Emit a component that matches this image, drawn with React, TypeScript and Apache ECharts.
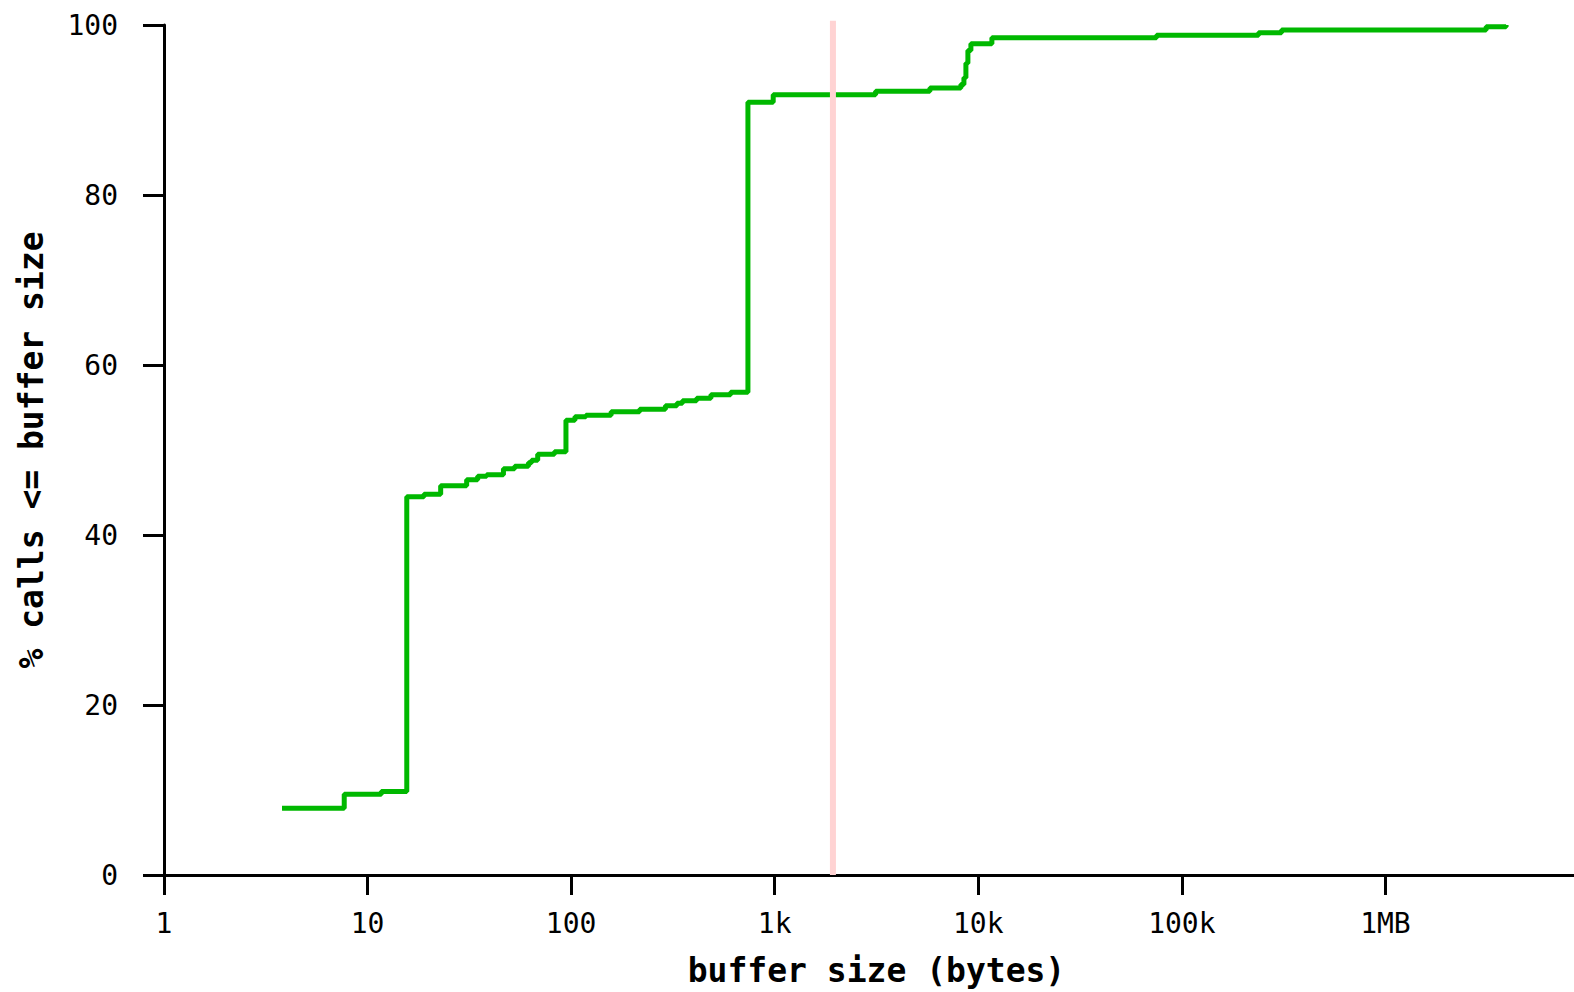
import React, { useEffect, useRef } from "react";
import * as echarts from "echarts";

// Buffer sizes (bytes) where the cumulative share changes, and the share of calls (%) from that size on
const bufferSizes = [
  3.8, 7.68, 11.68, 15.58, 18.92, 22.86, 30.67, 34.74, 38.46, 46.5, 52.8, 61.7, 63.9, 68.5, 82.8,
  94.3, 104.4, 118.2, 157.2, 217, 290.5, 330.8, 352.2, 413.5, 486, 607.3, 738.6, 983.2, 3131,
  5785, 8215, 8500, 8693, 8891, 9198, 11663, 75110, 238100, 308900, 3124000, 3915000,
];
const callsPct = [
  7.86, 9.5, 9.81, 44.5, 44.8, 45.8, 46.5, 46.9, 47.1, 47.8, 48.1, 48.5, 48.8, 49.5, 49.8,
  53.5, 53.9, 54.1, 54.5, 54.8, 55.2, 55.5, 55.8, 56.1, 56.5, 56.8, 90.9, 91.8, 92.2,
  92.6, 93.0, 93.8, 95.5, 97.0, 97.8, 98.5, 98.8, 99.1, 99.4, 99.8, 100,
];

// Reference buffer size marked by the vertical guide
const markerSize = 1932;
const markerRange = [0, 100.5];

// Decade tick labels of the size axis
const sizeTickValues = [1, 10, 100, 1000, 10000, 100000, 1000000];
const sizeTickLabels = ["1", "10", "100", "1k", "10k", "100k", "1MB"];

const MONO = "'DejaVu Sans Mono', 'Liberation Mono', monospace";

export default function App() {
  const ref = useRef<HTMLDivElement>(null);

  useEffect(() => {
    if (!ref.current) return;
    const chart = echarts.init(ref.current, undefined, { renderer: "svg" });

    const cdf = bufferSizes.map((s, i) => [s, callsPct[i]]);
    const marker = markerRange.map((p) => [markerSize, p]);

    const sizeLabel = (v: number) => {
      const e = Math.log10(v);
      const idx = sizeTickValues.findIndex((t) => Math.abs(Math.log10(t) - e) < 1e-6);
      return idx >= 0 ? sizeTickLabels[idx] : "";
    };

    chart.setOption({
      animation: false,
      backgroundColor: "#ffffff",
      // the size axis runs on past the visible frame to 10MB, which is cropped away
      grid: { left: 164, right: 11, top: 25, bottom: 107, containLabel: false },
      xAxis: {
        type: "log",
        logBase: 10,
        min: 1,
        max: 10000000,
        splitNumber: 7,
        name: "buffer size (bytes)",
        nameLocation: "middle",
        nameGap: 79,
        nameTextStyle: { fontFamily: MONO, fontWeight: "bold", fontSize: 33, color: "#000" },
        axisLine: { show: true, lineStyle: { color: "#000", width: 3 } },
        axisTick: { show: true, length: 20, lineStyle: { color: "#000", width: 3 } },
        minorTick: { show: false },
        splitLine: { show: false },
        axisLabel: {
          formatter: sizeLabel,
          fontFamily: MONO,
          fontSize: 28,
          color: "#000",
          margin: 34,
          showMinLabel: true,
          showMaxLabel: true,
        },
      },
      yAxis: {
        type: "value",
        min: 0,
        max: 100,
        interval: 20,
        name: "% calls <= buffer size",
        nameLocation: "middle",
        nameGap: 116,
        nameTextStyle: { fontFamily: MONO, fontWeight: "bold", fontSize: 33, color: "#000" },
        axisLine: { show: true, lineStyle: { color: "#000", width: 3 } },
        axisTick: { show: true, length: 21, lineStyle: { color: "#000", width: 3 } },
        splitLine: { show: false },
        axisLabel: { fontFamily: MONO, fontSize: 28, color: "#000", margin: 46 },
      },
      series: [
        {
          type: "line",
          name: "calls",
          data: cdf,
          step: "end",
          showSymbol: false,
          symbol: "none",
          lineStyle: { color: "#00b800", width: 5 },
          z: 2,
        },
        {
          type: "line",
          name: "marker",
          data: marker,
          showSymbol: false,
          symbol: "none",
          clip: false,
          lineStyle: { color: "#ffd3d3", width: 6 },
          z: 3,
        },
      ],
    });

    return () => chart.dispose();
  }, []);

  return (
    <div
      style={{
        position: "absolute",
        left: 0,
        top: 0,
        width: 1574,
        height: 992,
        overflow: "hidden",
        background: "#fff",
      }}
    >
      <div ref={ref} style={{ width: 1600, height: 992 }} />
    </div>
  );
}
